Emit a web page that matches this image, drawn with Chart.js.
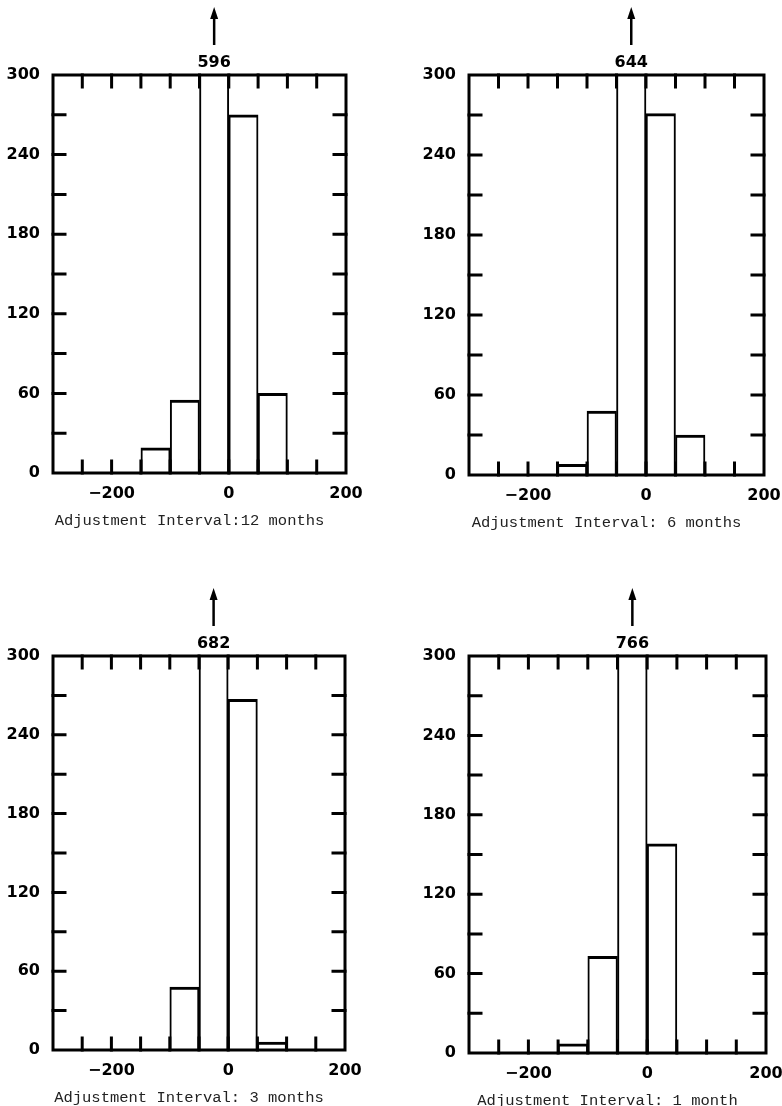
<!DOCTYPE html>
<html>
<head>
<meta charset="utf-8">
<script src="https://cdn.jsdelivr.net/npm/chart.js@4.4.0/dist/chart.umd.min.js"></script>
<style>
  body { margin: 0; background: #fff; }
  #wrap { position: relative; width: 782px; height: 1106px; }
  canvas { position: absolute; }
</style>
</head>
<body>
<div id="wrap">
  <canvas id="c12" width="391" height="553" style="left:0;top:0"></canvas>
  <canvas id="c6" width="391" height="553" style="left:391px;top:0"></canvas>
  <canvas id="c3" width="391" height="553" style="left:0;top:553px"></canvas>
  <canvas id="c1" width="391" height="553" style="left:391px;top:553px"></canvas>
</div>
<script>
// histogram bins (left edge), all 50 wide
const binStarts = [-150, -100, -50, 0, 50];
const binWidth = 50;

// counts per bin
const counts12 = [19, 55, 596, 270, 60];
const counts6 = [8, 48, 644, 271, 30];
const counts3 = [0, 48, 682, 267, 6];
const counts1 = [7, 73, 766, 158, 0];

const captions = [
  "Adjustment Interval:12 months",
  "Adjustment Interval: 6 months",
  "Adjustment Interval: 3 months",
  "Adjustment Interval: 1 month",
];

const xTickLabels = [-200, 0, 200];
const yTickLabels = [0, 60, 120, 180, 240, 300];
const xMin = -300, xMax = 200, yMax = 300;

const labelFont = { family: "DejaVu Sans", weight: "bold", size: 16 };

const panels = [
  { id: "c12", counts: counts12, caption: captions[0], pad: { left: 0, top: 75, right: 45, bottom: 50 } },
  { id: "c6", counts: counts6, caption: captions[1], pad: { left: 25, top: 75, right: 18, bottom: 48 } },
  { id: "c3", counts: counts3, caption: captions[2], pad: { left: 0, top: 103, right: 46, bottom: 26 } },
  { id: "c1", counts: counts1, caption: captions[3], pad: { left: 25, top: 103, right: 16, bottom: 23 } },
];

// box round the plot, inward ticks, the arrow for the off-scale bar, caption
const framePlugin = {
  id: "frame",
  afterDraw(chart) {
    const ctx = chart.ctx;
    const a = chart.chartArea;
    const x = chart.scales.x, y = chart.scales.y;
    ctx.save();
    ctx.strokeStyle = "#000";
    ctx.lineWidth = 3;
    ctx.lineCap = "square";
    ctx.strokeRect(a.left, a.top, a.right - a.left, a.bottom - a.top);

    ctx.beginPath();
    x.ticks.forEach((t) => {
      if (t.value <= xMin || t.value >= xMax) return;
      const px = x.getPixelForValue(t.value);
      ctx.moveTo(px, a.top); ctx.lineTo(px, a.top + 12);
      ctx.moveTo(px, a.bottom); ctx.lineTo(px, a.bottom - 12);
    });
    y.ticks.forEach((t) => {
      if (t.value <= 0 || t.value >= yMax) return;
      const py = y.getPixelForValue(t.value);
      ctx.moveTo(a.left, py); ctx.lineTo(a.left + 12, py);
      ctx.moveTo(a.right, py); ctx.lineTo(a.right - 12, py);
    });
    ctx.stroke();

    const data = chart.data.datasets[0].data;
    data.forEach((d) => {
      if (d.y <= yMax) return;
      const px = x.getPixelForValue(d.x);
      ctx.lineWidth = 2.5;
      ctx.lineCap = "butt";
      ctx.beginPath();
      ctx.moveTo(px, a.top - 30); ctx.lineTo(px, a.top - 60);
      ctx.stroke();
      ctx.fillStyle = "#000";
      ctx.beginPath();
      ctx.moveTo(px, a.top - 68);
      ctx.lineTo(px - 4, a.top - 56);
      ctx.lineTo(px + 4, a.top - 56);
      ctx.closePath();
      ctx.fill();
      ctx.font = "bold 16px 'DejaVu Sans'";
      ctx.textAlign = "center";
      ctx.textBaseline = "middle";
      ctx.fillText(String(d.y), px, a.top - 12);
    });

    ctx.fillStyle = "#222";
    ctx.font = "15.5px 'Liberation Mono'";
    ctx.textAlign = "center";
    ctx.textBaseline = "middle";
    ctx.fillText(chart.options.plugins.frame.caption, (a.left + a.right) / 2 - 10, a.bottom + 48);
    ctx.restore();
  },
};

panels.forEach((p) => {
  const points = binStarts
    .map((s, i) => ({ x: s + binWidth / 2, y: p.counts[i] }))
    .filter((d) => d.y > 0);

  new Chart(document.getElementById(p.id), {
    type: "bar",
    data: {
      datasets: [
        {
          data: points,
          backgroundColor: "#fff",
          borderColor: "#000",
          borderWidth: { top: 3, left: 2, right: 2, bottom: 0 },
          borderSkipped: false,
          barPercentage: 1,
          categoryPercentage: 1,
          clip: 0,
        },
      ],
    },
    options: {
      responsive: false,
      animation: false,
      devicePixelRatio: 1,
      layout: { padding: p.pad },
      plugins: {
        legend: { display: false },
        tooltip: { enabled: false },
        frame: { caption: p.caption },
      },
      scales: {
        x: {
          type: "linear",
          min: xMin,
          max: xMax,
          offset: false,
          grid: { display: false },
          border: { display: false },
          ticks: {
            stepSize: 50,
            autoSkip: false,
            maxRotation: 0,
            padding: 3,
            color: "#000",
            font: labelFont,
            callback: (v) => (xTickLabels.includes(v) ? (v < 0 ? "\u2212" + -v : String(v)) : ""),
          },
          afterFit: (s) => { s.height = 30; s.paddingLeft = 0; s.paddingRight = 0; },
        },
        y: {
          min: 0,
          max: yMax,
          grid: { display: false },
          border: { display: false },
          ticks: {
            stepSize: 30,
            autoSkip: false,
            padding: 5,
            color: "#000",
            font: labelFont,
            callback: (v) => (yTickLabels.includes(v) ? String(v) : ""),
          },
          afterFit: (s) => { s.width = 53; s.paddingTop = 0; s.paddingBottom = 0; },
        },
      },
    },
    plugins: [framePlugin],
  });
});
</script>
</body>
</html>
